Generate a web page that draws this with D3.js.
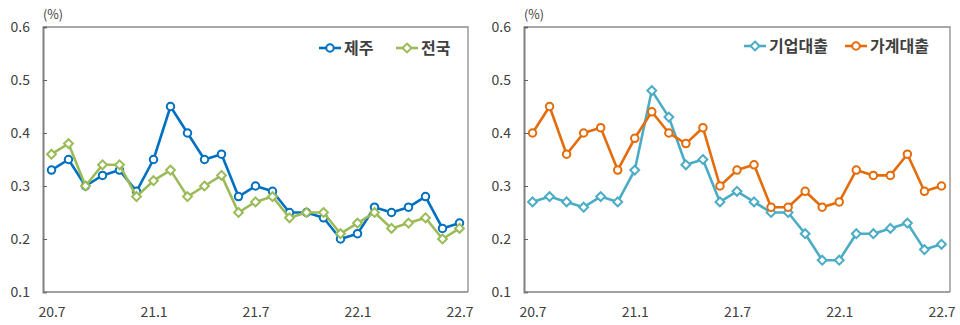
<!DOCTYPE html>
<html>
<head>
<meta charset="utf-8">
<script src="https://cdn.jsdelivr.net/npm/d3@7"></script>
<style>
  html, body { margin: 0; padding: 0; background: #fff; }
  svg { display: block; font-family: "Noto Sans CJK KR", "Noto Sans", sans-serif; }
</style>
</head>
<body>
<svg id="chart" width="960" height="325"></svg>
<script>
// Months from 2020.7 to 2022.7
const months = ["20.7","20.8","20.9","20.10","20.11","20.12","21.1","21.2","21.3","21.4","21.5","21.6",
  "21.7","21.8","21.9","21.10","21.11","21.12","22.1","22.2","22.3","22.4","22.5","22.6","22.7"];
const xTickLabels = ["20.7","21.1","21.7","22.1","22.7"];
const yTicks = [0.1, 0.2, 0.3, 0.4, 0.5, 0.6];

// Left panel: 제주 vs 전국
const jeju     = [0.33,0.35,0.30,0.32,0.33,0.29,0.35,0.45,0.40,0.35,0.36,0.28,0.30,0.29,0.25,0.25,0.24,0.20,0.21,0.26,0.25,0.26,0.28,0.22,0.23];
const national = [0.36,0.38,0.30,0.34,0.34,0.28,0.31,0.33,0.28,0.30,0.32,0.25,0.27,0.28,0.24,0.25,0.25,0.21,0.23,0.25,0.22,0.23,0.24,0.20,0.22];

// Right panel: 기업대출 vs 가계대출
const corporate = [0.27,0.28,0.27,0.26,0.28,0.27,0.33,0.48,0.43,0.34,0.35,0.27,0.29,0.27,0.25,0.25,0.21,0.16,0.16,0.21,0.21,0.22,0.23,0.18,0.19];
const household = [0.40,0.45,0.36,0.40,0.41,0.33,0.39,0.44,0.40,0.38,0.41,0.30,0.33,0.34,0.26,0.26,0.29,0.26,0.27,0.33,0.32,0.32,0.36,0.29,0.30];

const svg = d3.select("#chart");
const textColor = "#404040";

function marker(shape) {
  return d3.symbol()
    .type(shape === "circle" ? d3.symbolCircle : d3.symbolDiamond2)
    .size(shape === "circle" ? 44 : 50);
}

function panel(cfg) {
  const { left, right, top, bottom, series } = cfg;
  const g = svg.append("g");

  const x = d3.scalePoint().domain(months).range([left, right]).padding(0.5);
  const y = d3.scaleLinear().domain([0.1, 0.6]).range([bottom, top]);

  // frame (top and right borders)
  g.append("path")
    .attr("d", `M${left},${top}H${right}V${bottom}`)
    .attr("fill", "none").attr("stroke", "#8c8c8c").attr("stroke-width", 1.3);

  // y axis with short inward ticks
  const yAxis = d3.axisLeft(y).tickValues(yTicks).tickSize(-4).tickPadding(13)
    .tickFormat(d3.format(".1f"));
  const ya = g.append("g").attr("transform", `translate(${left},0)`).call(yAxis);
  ya.select(".domain").attr("stroke", "#808080").attr("stroke-width", 2);
  ya.selectAll(".tick line").attr("stroke", "#606060").attr("stroke-width", 1);
  ya.selectAll(".tick text").attr("fill", textColor).attr("font-size", 14)
    .attr("font-family", "'Noto Sans CJK KR', sans-serif");

  // x axis
  const xAxis = d3.axisBottom(x).tickValues(xTickLabels).tickSize(0).tickPadding(15);
  const xa = g.append("g").attr("transform", `translate(0,${bottom})`).call(xAxis);
  xa.select(".domain").attr("stroke", "#808080").attr("stroke-width", 1.5)
    .attr("d", `M${left},0H${right}`);
  xa.selectAll(".tick text").attr("fill", textColor).attr("font-size", 14)
    .attr("font-family", "'Noto Sans CJK KR', sans-serif");

  // unit label
  g.append("text").attr("x", left).attr("y", 19).attr("fill", textColor)
    .attr("font-size", 12.5).text("(%)");

  const line = d3.line().x((d, i) => x(months[i])).y(d => y(d));

  series.forEach(s => {
    g.append("path").datum(s.values)
      .attr("d", line).attr("fill", "none")
      .attr("stroke", s.color).attr("stroke-width", 2.6)
      .attr("stroke-linejoin", "round");
    g.selectAll(null).data(s.values).enter().append("path")
      .attr("d", marker(s.shape))
      .attr("transform", (d, i) => `translate(${x(months[i])},${y(d)})`)
      .attr("fill", "#fff").attr("stroke", s.color).attr("stroke-width", 2);
  });

  // legend
  cfg.legend.forEach(item => {
    const s = series[item.series];
    const lg = g.append("g").attr("transform", `translate(${item.x},${item.y})`);
    lg.append("line").attr("x1", 0).attr("x2", 22).attr("y1", 0).attr("y2", 0)
      .attr("stroke", s.color).attr("stroke-width", 2.6);
    lg.append("path").attr("d", marker(s.shape)).attr("transform", "translate(11,0)")
      .attr("fill", "#fff").attr("stroke", s.color).attr("stroke-width", 2);
    lg.append("text").attr("x", 25).attr("y", 6).attr("fill", textColor)
      .attr("font-size", 16).attr("font-weight", 700).text(s.name);
  });
}

panel({
  left: 43, right: 468, top: 27, bottom: 292,
  series: [
    { name: "제주", values: jeju, color: "#0070c0", shape: "circle" },
    { name: "전국", values: national, color: "#9bbb59", shape: "diamond" }
  ],
  legend: [ { series: 0, x: 319, y: 48 }, { series: 1, x: 396, y: 48 } ]
});

panel({
  left: 524, right: 950, top: 27, bottom: 292,
  series: [
    { name: "기업대출", values: corporate, color: "#4bacc6", shape: "diamond" },
    { name: "가계대출", values: household, color: "#e46c0a", shape: "circle" }
  ],
  legend: [ { series: 0, x: 744, y: 46 }, { series: 1, x: 845, y: 46 } ]
});
</script>
</body>
</html>
